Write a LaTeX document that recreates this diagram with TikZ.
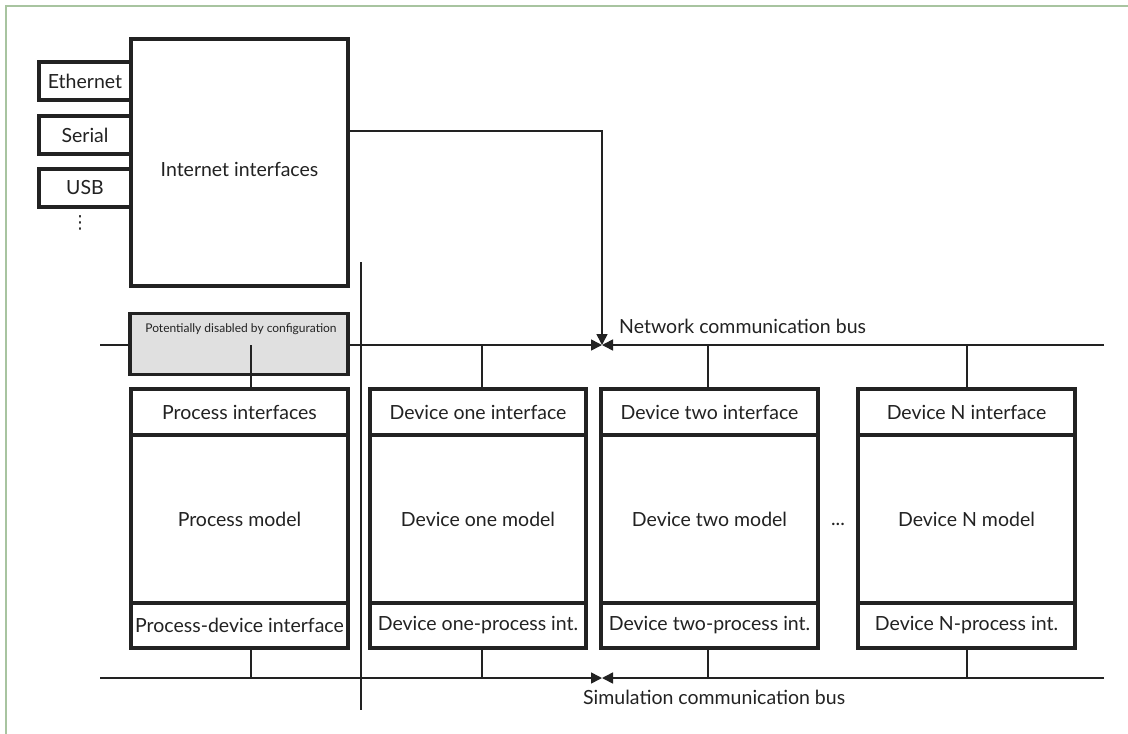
\documentclass[tikz,border=0pt]{standalone}
\usepackage{fontspec}
\setmainfont{Lato}
\newfontfamily\dejavu{DejaVu Sans}
\usetikzlibrary{arrows.meta}
\definecolor{framegreen}{RGB}{168,196,160}
\definecolor{ink}{RGB}{34,34,34}
\definecolor{shade}{RGB}{224,224,224}
\begin{document}
\begin{tikzpicture}[x=1pt,y=-1pt,
  box/.style={draw=ink,line width=3.5pt,fill=white,minimum width=217pt,inner sep=0pt,
              font=\fontsize{19.5}{22}\selectfont,text=ink},
  conn/.style={draw=ink,line width=1.6pt},
  tip/.style={-{Triangle[length=11pt,width=11pt]}},
  lab/.style={font=\fontsize{19.5}{22}\selectfont,text=ink,inner sep=0pt},
]
\useasboundingbox (0,0) rectangle (1128,734);
\fill[white] (0,0) rectangle (1128,734);
\draw[line width=2pt,framegreen] (6,734) -- (6,6) -- (1128,6);

% small interface boxes
\node[box,minimum width=92pt,minimum height=38pt] (eth) at (85,81) {Ethernet};
\node[box,minimum width=92pt,minimum height=38pt] (ser) at (85,135) {Serial};
\node[box,minimum width=92pt,minimum height=38pt] (usb) at (85,188) {USB};
\node[inner sep=0pt,text=ink,font=\dejavu\fontsize{18}{20}\selectfont] (vdots) at (80,223) {⋮};
\node[box,minimum height=247pt,label={[lab,yshift=-7pt]center:Internet interfaces}] (inet) at (239.5,162.5) {};

% buses
\coordinate (nbL) at (100,345);
\coordinate (nbR) at (1104,345);
\coordinate (nbC) at (602,345);
\coordinate (sbL) at (100,678);
\coordinate (sbR) at (1104,678);
\coordinate (sbC) at (602,678);
\draw[conn,tip] (nbL) -- (nbC);
\draw[conn,tip] (nbR) -- (nbC);
\draw[conn,tip] (sbL) -- (sbC);
\draw[conn,tip] (sbR) -- (sbC);
\draw[conn,tip] ([yshift=31.5pt]inet.east) -| (nbC);

\node[lab,anchor=west] (nblab) at (619,326) {Network communication bus};
\node[lab,anchor=west] (sblab) at (583,697) {Simulation communication bus};

% divider
\coordinate (divT) at (361,262);
\coordinate (divB) at (361,710);
\draw[conn] (divT) -- (divB);

% disabled region
\node[box,fill=shade,minimum width=218pt,minimum height=61pt] (dis) at (239,344) {};
\node[font=\fontsize{12}{14}\selectfont,text=ink,inner sep=0pt] (distext) at (241,329) {Potentially disabled by configuration};

% process column
\node[box,minimum height=46pt] (pI) at (239.5,412) {Process interfaces};
\node[box,minimum height=168pt] (pM) at (239.5,519) {Process model};
\node[box,minimum height=45pt] (pD) at (239.5,625.5) {Process-device interface};

% device one
\node[box,minimum width=216pt,minimum height=46pt] (aI) at (478,412) {Device one interface};
\node[box,minimum width=216pt,minimum height=168pt] (aM) at (478,519) {Device one model};
\node[box,minimum width=216pt,minimum height=45pt] (aD) at (478,625.5) {Device one-process int.};

% device two
\node[box,minimum height=46pt] (bI) at (709.5,412) {Device two interface};
\node[box,minimum height=168pt] (bM) at (709.5,519) {Device two model};
\node[box,minimum height=45pt] (bD) at (709.5,625.5) {Device two-process int.};

% device N
\node[box,minimum height=46pt] (nI) at (966.5,412) {Device N interface};
\node[box,minimum height=168pt] (nM) at (966.5,519) {Device N model};
\node[box,minimum height=45pt] (nD) at (966.5,625.5) {Device N-process int.};

\node[lab] (ell) at (838,524) {...};

% connectors to buses
\draw[conn] ([xshift=11.5pt]pI.north) -- ([xshift=11.5pt]pI.north |- nbL);
\draw[conn] ([xshift=4pt]aI.north) -- ([xshift=4pt]aI.north |- nbL);
\draw[conn] ([xshift=-1.5pt]bI.north) -- ([xshift=-1.5pt]bI.north |- nbL);
\draw[conn] ([xshift=0.5pt]nI.north) -- ([xshift=0.5pt]nI.north |- nbL);
\draw[conn] ([xshift=11.5pt]pD.south) -- ([xshift=11.5pt]pD.south |- sbL);
\draw[conn] ([xshift=4pt]aD.south) -- ([xshift=4pt]aD.south |- sbL);
\draw[conn] ([xshift=-1.5pt]bD.south) -- ([xshift=-1.5pt]bD.south |- sbL);
\draw[conn] ([xshift=0.5pt]nD.south) -- ([xshift=0.5pt]nD.south |- sbL);
\end{tikzpicture}
\end{document}
